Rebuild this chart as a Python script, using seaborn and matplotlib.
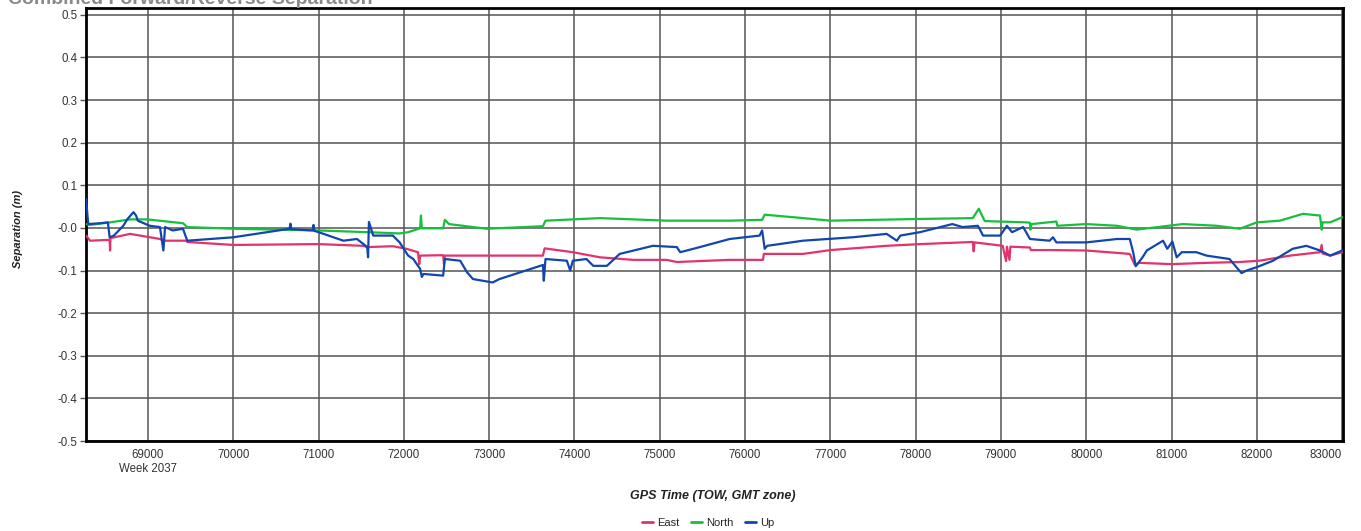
import pandas as pd
import matplotlib.pyplot as plt
import seaborn as sns

# values (GPS time of week, separation in m)
east_t = [68275, 68320, 68550, 68555, 68560, 68790, 69140, 69180, 69450, 69460, 70000, 71000,
          71520, 71570, 71870, 72030, 72165, 72180, 72190, 72460, 72470, 72480, 73630, 73650,
          73980, 74300, 74690, 75080, 75200, 75820, 76210, 76220, 76680, 77000, 77660, 78050,
          78670, 78680, 78690, 79020, 79060, 79070, 79100, 79110, 79340, 79350, 79580, 80000,
          80510, 80570, 80620, 81000, 81410, 81800, 82030, 82390, 82740, 82760, 82770, 82860, 83000]
east_v = [-0.018, -0.030, -0.028, -0.053, -0.024, -0.014, -0.026, -0.030, -0.030, -0.033, -0.040, -0.038,
          -0.042, -0.045, -0.043, -0.049, -0.057, -0.085, -0.065, -0.064, -0.085, -0.065, -0.065, -0.048,
          -0.057, -0.069, -0.075, -0.075, -0.080, -0.075, -0.075, -0.061, -0.061, -0.052, -0.042, -0.038,
          -0.033, -0.055, -0.034, -0.042, -0.078, -0.044, -0.075, -0.044, -0.046, -0.052, -0.052, -0.053,
          -0.061, -0.087, -0.082, -0.085, -0.082, -0.080, -0.077, -0.065, -0.057, -0.040, -0.060, -0.065, -0.057]

north_t = [68275, 68320, 68555, 68790, 68990, 69410, 69460, 70000, 71000, 71570, 71950, 72050,
           72190, 72200, 72210, 72460, 72480, 72530, 72970, 73630, 73660, 74300, 75080, 75820,
           76200, 76230, 76680, 77000, 78050, 78670, 78740, 78810, 79300, 79340, 79345, 79360,
           79650, 79660, 80000, 80360, 80590, 81130, 81530, 81800, 82000, 82270, 82540, 82740,
           82760, 82770, 82860, 83000]
north_v = [0.009, 0.007, 0.013, 0.020, 0.020, 0.011, 0.002, -0.002, -0.006, -0.010, -0.013, -0.010,
           -0.001, 0.029, -0.001, -0.001, 0.019, 0.009, -0.002, 0.004, 0.017, 0.023, 0.017, 0.017,
           0.019, 0.031, 0.023, 0.017, 0.021, 0.023, 0.045, 0.016, 0.013, 0.012, -0.004, 0.009,
           0.015, 0.005, 0.009, 0.005, -0.004, 0.009, 0.005, -0.002, 0.013, 0.017, 0.033, 0.029,
           -0.004, 0.013, 0.013, 0.025]

up_t = [68275, 68290, 68300, 68440, 68530, 68550, 68600, 68710, 68760, 68830, 68860, 68880,
        69020, 69140, 69180, 69200, 69290, 69410, 69460, 70000, 70660, 70670, 70680, 70930,
        70940, 70950, 71000, 71290, 71450, 71570, 71580, 71590, 71640, 71870, 71950, 72050,
        72110, 72190, 72210, 72230, 72460, 72480, 72660, 72740, 72810, 73040, 73120, 73630,
        73640, 73660, 73910, 73950, 73980, 74140, 74220, 74380, 74530, 74920, 75200, 75240,
        75470, 75820, 76170, 76200, 76230, 76260, 76680, 77260, 77660, 77780, 77820, 78050,
        78430, 78550, 78730, 78790, 78990, 79070, 79130, 79260, 79340, 79570, 79610, 79650,
        80000, 80360, 80510, 80550, 80580, 80660, 80710, 80900, 80950, 81010, 81060, 81120,
        81290, 81410, 81680, 81760, 81820, 81880, 82000, 82190, 82420, 82580, 82740, 82860, 83000]
up_v = [0.068, 0.029, 0.009, 0.011, 0.013, -0.022, -0.018, 0.005, 0.021, 0.037, 0.029, 0.017,
        0.005, 0.002, -0.053, 0.002, -0.006, -0.002, -0.030, -0.022, -0.002, 0.010, -0.003, -0.006,
        0.007, -0.007, -0.010, -0.030, -0.026, -0.045, -0.069, 0.014, -0.018, -0.018, -0.034, -0.065,
        -0.073, -0.096, -0.115, -0.108, -0.112, -0.073, -0.077, -0.104, -0.120, -0.128, -0.120, -0.087,
        -0.124, -0.073, -0.077, -0.100, -0.077, -0.073, -0.089, -0.089, -0.061, -0.042, -0.045, -0.057,
        -0.045, -0.026, -0.018, -0.006, -0.049, -0.042, -0.030, -0.022, -0.014, -0.030, -0.018, -0.010,
        0.009, 0.002, 0.005, -0.018, -0.018, 0.005, -0.010, 0.002, -0.026, -0.030, -0.022, -0.034,
        -0.034, -0.026, -0.026, -0.057, -0.090, -0.069, -0.053, -0.030, -0.049, -0.032, -0.069, -0.057,
        -0.057, -0.065, -0.073, -0.092, -0.106, -0.100, -0.092, -0.077, -0.049, -0.042, -0.053, -0.065, -0.053]

x_ticks = [69000, 70000, 71000, 72000, 73000, 74000, 75000, 76000, 77000, 78000, 79000, 80000, 81000, 82000, 83000]
y_ticks = [0.5, 0.4, 0.3, 0.2, 0.1, 0.0, -0.1, -0.2, -0.3, -0.4, -0.5]
y_labels = ["0.5", "0.4", "0.3", "0.2", "0.1", "-0.0", "-0.1", "-0.2", "-0.3", "-0.4", "-0.5"]

palette = {"East": "#E2336B", "North": "#17C03C", "Up": "#1146AE"}

frames = []
for name, t, v in [("East", east_t, east_v), ("North", north_t, north_v), ("Up", up_t, up_v)]:
    frames.append(pd.DataFrame({"tow": t, "sep": v, "series": name}))
data = pd.concat(frames, ignore_index=True)

sns.set_theme(style="white")
plt.rcParams['font.family'] = ['Liberation Sans', 'DejaVu Sans']

fig = plt.figure(figsize=(13.61, 5.31), dpi=100)
ax = fig.add_axes([86 / 1361, 1 - 441 / 531, (1343 - 86) / 1361, (441 - 8) / 531])

sns.lineplot(data=data, x="tow", y="sep", hue="series", palette=palette,
             estimator=None, sort=False, linewidth=1.6, ax=ax, legend=False, zorder=3)

ax.set_xlim(68273, 83010)
ax.set_ylim(-0.5, 0.516)
ax.set_xticks(x_ticks)
ax.set_xticklabels([str(t) for t in x_ticks])
ax.set_yticks(y_ticks)
ax.set_yticklabels(y_labels)
ax.grid(True, color="#555555", linewidth=1.1, zorder=0)
ax.tick_params(axis='y', length=4, width=1, color="#555555", labelsize=8.3, labelcolor="#333333", pad=2, left=True)
ax.tick_params(axis='x', length=0, labelsize=8.3, labelcolor="#333333", pad=6)
# last tick label sits left of its tick, as in the original
ax.get_xticklabels()[-1].set_horizontalalignment("right")
ax.get_xticklabels()[-1].set_x(83000)
for s in ax.spines.values():
    s.set_color("black")
    s.set_linewidth(2)

ax.set_xlabel("")
ax.set_ylabel("")

# texts around the plot area
fig.text(8 / 1361, 1 - 4 / 531, "Combined Forward/Reverse Separation", fontsize=14,
         fontweight="bold", color="#8a8a8a", ha="left", va="baseline")
fig.text(18 / 1361, 1 - 229 / 531, "Separation (m)", fontsize=8, fontweight="bold",
         fontstyle="italic", color="#222222", rotation=90, ha="center", va="center")
fig.text(148 / 1361, 1 - 469 / 531, "Week 2037", fontsize=8.3, color="#333333",
         ha="center", va="center")
fig.text(713 / 1361, 1 - 496 / 531, "GPS Time (TOW, GMT zone)", fontsize=9, fontweight="bold",
         fontstyle="italic", color="#222222", ha="center", va="center")

handles = [plt.Line2D([], [], color=palette[n], linewidth=2) for n in palette]
fig.legend(handles, list(palette), loc="center", bbox_to_anchor=(708 / 1361, 1 - 523 / 531),
           ncol=3, frameon=False, fontsize=8, handlelength=1.0, handletextpad=0.4,
           columnspacing=1.0, borderpad=0)

fig.savefig("out.png", dpi=100)
